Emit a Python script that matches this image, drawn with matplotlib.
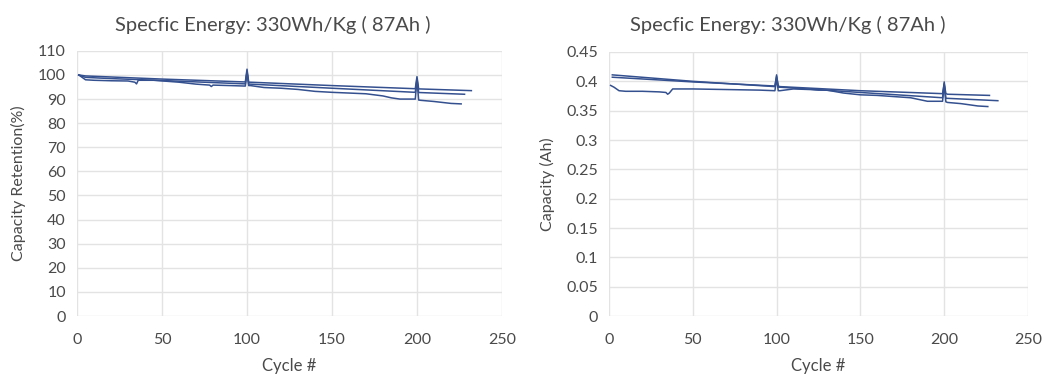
import matplotlib
matplotlib.use('Agg')
import matplotlib.pyplot as plt

plt.rcParams['font.family'] = ['Lato', 'DejaVu Sans']

#--- data ---

TITLE = 'Specfic Energy: 330Wh/Kg ( 87Ah )'

# left: capacity retention (%)
ret_a_x = [1, 5, 50, 99, 100, 101, 102, 150, 199, 200, 201, 202, 232]
ret_a_y = [100, 99.6, 98.3, 97.1, 102.4, 97.0, 97.0, 95.6, 94.3, 99.3, 94.2, 94.2, 93.5]

ret_b_x = [1, 5, 20, 50, 99, 100, 101, 102, 150, 199, 200, 201, 202, 228]
ret_b_y = [100, 99.0, 98.5, 97.7, 96.3, 101.5, 96.2, 96.2, 94.5, 92.8, 98.5, 92.7, 92.7, 92.0]

ret_c_x = [1, 3, 5, 10, 20, 30, 34, 35, 36, 45, 60, 70, 78, 79, 80, 90, 99,
           100, 101, 102, 110, 120, 130, 140, 150, 160, 170, 180, 185, 190,
           195, 199, 200, 201, 202, 210, 220, 226]
ret_c_y = [100, 99.0, 98.0, 97.8, 97.6, 97.5, 97.0, 96.3, 97.8, 97.8, 97.0,
           96.2, 95.8, 95.2, 95.8, 95.6, 95.4, 101.0, 95.6, 95.6, 94.8, 94.5,
           94.0, 93.2, 92.8, 92.5, 92.2, 91.3, 90.5, 90.0, 90.0, 90.0, 98.0,
           89.6, 89.5, 89.0, 88.2, 88.0]

# right: capacity (Ah)
cap_a_x = [2, 50, 99, 100, 101, 102, 150, 199, 200, 201, 202, 227]
cap_a_y = [0.407, 0.399, 0.392, 0.408, 0.392, 0.391, 0.384, 0.379, 0.396, 0.379, 0.378, 0.376]

cap_b_x = [2, 50, 99, 100, 101, 102, 150, 199, 200, 201, 202, 232]
cap_b_y = [0.411, 0.400, 0.391, 0.411, 0.390, 0.390, 0.381, 0.372, 0.399, 0.371, 0.371, 0.367]

cap_c_x = [1, 3, 6, 10, 20, 30, 34, 35, 36, 38, 50, 70, 90, 99, 100, 101,
           102, 110, 120, 125, 130, 140, 150, 160, 170, 180, 190, 199, 200,
           201, 202, 210, 220, 226]
cap_c_y = [0.393, 0.390, 0.384, 0.383, 0.383, 0.382, 0.381, 0.378, 0.380,
           0.387, 0.387, 0.386, 0.385, 0.384, 0.404, 0.384, 0.384, 0.387,
           0.386, 0.385, 0.385, 0.380, 0.377, 0.376, 0.374, 0.372, 0.366,
           0.366, 0.393, 0.365, 0.364, 0.362, 0.358, 0.357]

x_ticks = [0, 50, 100, 150, 200, 250]
ret_ticks = [0, 10, 20, 30, 40, 50, 60, 70, 80, 90, 100, 110]
cap_ticks = [0, 0.05, 0.1, 0.15, 0.2, 0.25, 0.3, 0.35, 0.4, 0.45]
cap_tick_labels = ['0', '0.05', '0.1', '0.15', '0.2', '0.25', '0.3', '0.35', '0.4', '0.45']

# ── style ────────────────────────────────────────────────────────────
LINE = '#34508f'
TXT = '#4a4a4a'
GRID = '#e3e3e3'

fig = plt.figure(figsize=(10.44, 3.74), dpi=100, facecolor='white')
ax_l = fig.add_axes([0.0738, 0.155, 0.407, 0.709])
ax_r = fig.add_axes([0.5833, 0.155, 0.4014, 0.706])


def style(ax, ylim, yticks, ylabels, ylabel, ylab_x):
    ax.set_xlim(0, 250)
    ax.set_ylim(*ylim)
    ax.set_xticks(x_ticks)
    ax.set_yticks(yticks)
    ax.set_yticklabels(ylabels)
    ax.grid(True, color=GRID, lw=1.0)
    ax.set_axisbelow(True)
    for sp in ax.spines.values():
        sp.set_visible(False)
    ax.tick_params(length=0, labelsize=11.5, colors=TXT, pad=8)
    ax.tick_params(axis='x', pad=12)
    ax.set_ylabel(ylabel, fontsize=11.5, color=TXT)
    ax.yaxis.set_label_coords(ylab_x, 0.5)
    ax.set_xlabel('Cycle #', fontsize=12, color=TXT)
    ax.xaxis.set_label_coords(0.5, -0.16)


style(ax_l, (0, 110), ret_ticks, [str(t) for t in ret_ticks],
      'Capacity Retention(%)', -0.12)
style(ax_r, (0, 0.45), cap_ticks, cap_tick_labels, 'Capacity (Ah)', -0.129)

for xs, ys in [(ret_a_x, ret_a_y), (ret_b_x, ret_b_y), (ret_c_x, ret_c_y)]:
    ax_l.plot(xs, ys, color=LINE, lw=1.1)
for xs, ys in [(cap_a_x, cap_a_y), (cap_b_x, cap_b_y), (cap_c_x, cap_c_y)]:
    ax_r.plot(xs, ys, color=LINE, lw=1.1)

fig.text(273 / 1044, 1 - 25 / 374, TITLE, ha='center', va='center',
         fontsize=14.5, color=TXT)
fig.text(788 / 1044, 1 - 25 / 374, TITLE, ha='center', va='center',
         fontsize=14.5, color=TXT)

fig.savefig('out.png', dpi=100, facecolor='white')
